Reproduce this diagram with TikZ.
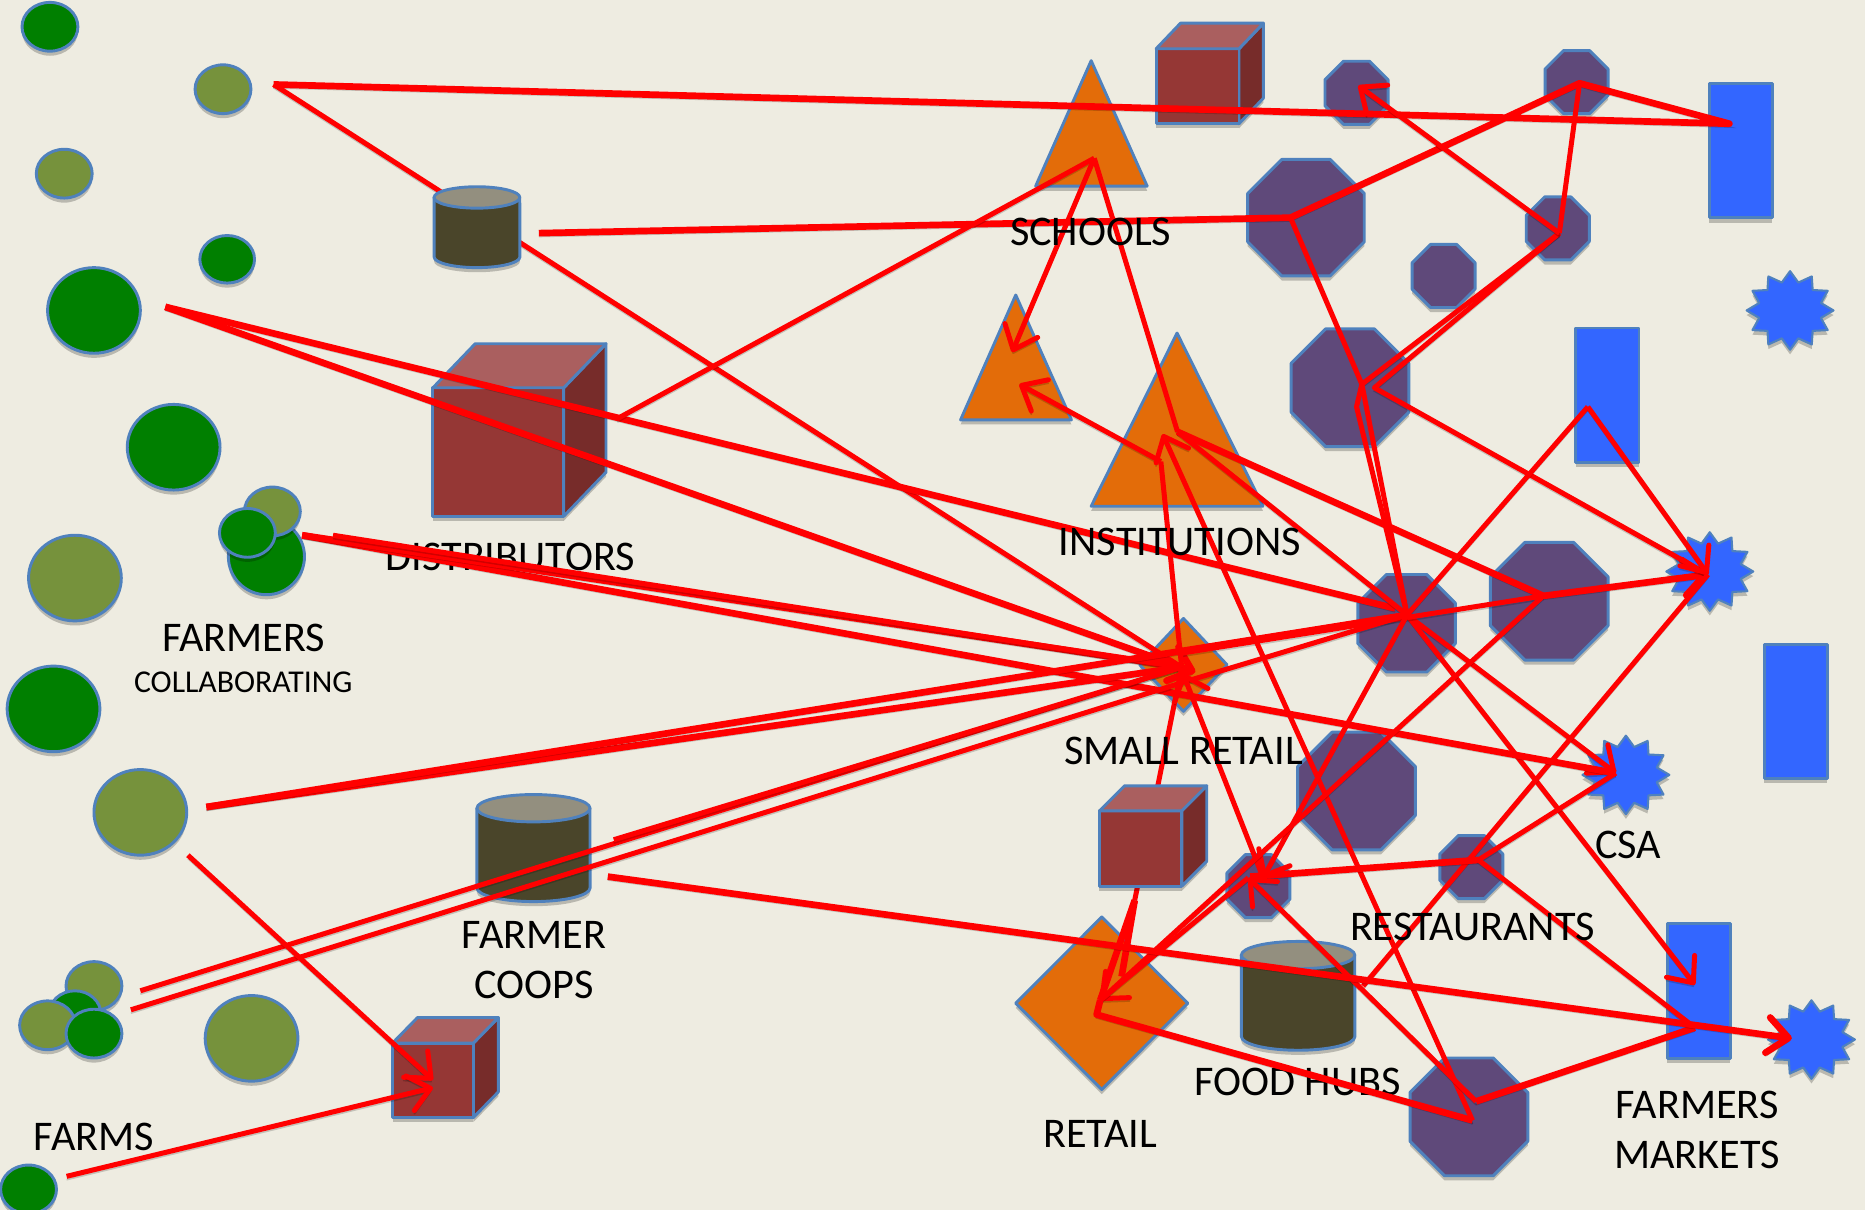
\documentclass[tikz,border=0pt]{standalone}
\usepackage{fontspec}
\setmainfont{Carlito}
\usetikzlibrary{shapes.geometric,shadows,arrows.meta}
\definecolor{bgc}{HTML}{EEECE1}
\definecolor{edgec}{HTML}{4F81BD}
\definecolor{darkfarm}{HTML}{007F00}
\definecolor{olivefarm}{HTML}{76923C}
\definecolor{purpc}{HTML}{5F497A}
\definecolor{orangec}{HTML}{E36C09}
\definecolor{bluec}{HTML}{3366FF}
\definecolor{crfront}{HTML}{953735}
\definecolor{crtop}{HTML}{AA5F5F}
\definecolor{crside}{HTML}{772C2A}
\definecolor{drumbody}{HTML}{4A452A}
\definecolor{drumtop}{HTML}{938F7F}
\tikzset{
  shad/.style={drop shadow={shadow xshift=0pt,shadow yshift=-1.1pt,opacity=.22,fill=black}},
  outl/.style={draw=edgec,line width=.7pt,line join=round},
  farm/.style={ellipse,outl,shad,inner sep=0pt,outer sep=0pt},
  octa/.style={regular polygon,regular polygon sides=8,fill=purpc,outl,shad,inner sep=0pt,outer sep=0pt},
  burst/.style={star,star points=12,star point ratio=1.36,fill=bluec,outl,line width=.5pt,shad,inner sep=0pt,outer sep=0pt,
     minimum size=.66cm,xscale=1.106,transform shape},
  stall/.style={rectangle,fill=bluec,outl,shad,inner sep=0pt,outer sep=0pt,minimum width=.53cm,minimum height=1.13cm},
  tri/.style={fill=orangec,outl,shad},
  gem/.style={diamond,fill=orangec,outl,shad,inner sep=0pt,outer sep=0pt},
  lbl/.style={font=\fontsize{10.1}{12}\selectfont,inner sep=0pt,align=center,text=black},
  wire/.style={draw=red,line width=1.2pt,line join=round,
     preaction={draw=black,opacity=.18,transform canvas={yshift=-.8pt}}},
  heavy/.style={wire,line width=1.6pt},
  tip/.style={-{Straight Barb[length=5pt,width=8.5pt,round]}},
}
\newcommand\Disc[6]{\node[farm,fill=#2,minimum width=#5*.01cm,minimum height=#6*.01cm] (#1) at (#3,#4) {};}
\newcommand\Oct[4]{\node[octa,minimum size=#4*.010824cm] (#1) at (#2,#3) {};}
\newcommand\Crate[6]{%
  \draw[outl,fill=crside,shad] (#3,#2) -- ++(#5,-#6) -- ++(0,{#4-#2}) -- ++(-#5,#6) -- cycle;
  \draw[outl,fill=crfront,shad] (#1,#2) rectangle (#3,#4);
  \draw[outl,fill=crtop] (#1,#2) -- ++(#5,-#6) -- ++({#3-#1},0) -- (#3,#2) -- cycle;}
\newcommand\Drum[5]{%
  \draw[outl,fill=drumbody,shad] (#1,#3) -- (#1,#4) arc[start angle=180,end angle=360,x radius={(#2-#1)*.005cm},y radius=#5*.01cm] -- (#2,#3) -- cycle;
  \draw[outl,fill=drumtop] ({(#1+#2)/2},#3) ellipse[x radius={(#2-#1)*.005cm},y radius=#5*.01cm];}
\begin{document}
\begin{tikzpicture}[x=.01cm,y=-.01cm]
\useasboundingbox (0,0) rectangle (1568,1017);
\fill[bgc] (0,0) rectangle (1568,1017);
% farms
\Disc{fa}{darkfarm}{42}{22.5}{47}{41}
\Disc{fb}{olivefarm}{187.5}{75}{47}{41}
\Disc{fc}{olivefarm}{54}{146}{47}{41}
\Disc{fd}{darkfarm}{191}{218}{46}{40}
\Disc{fe}{darkfarm}{79}{261}{78}{72}
\Disc{ff}{darkfarm}{146}{376}{78}{72}
\Disc{fg}{olivefarm}{63}{486}{78}{72}
\Disc{fh}{darkfarm}{45}{596}{78}{72}
\Disc{fi}{olivefarm}{118}{683}{78}{72}
\Disc{fj}{olivefarm}{211.5}{873}{78}{72}
\Disc{fk}{darkfarm}{24}{1000}{47}{41}
\Disc{ca}{darkfarm}{224}{468}{64}{64}
\Disc{cb}{olivefarm}{229}{430}{47}{41}
\Disc{cc}{darkfarm}{208}{448}{47}{41}
\Disc{da}{olivefarm}{79}{829}{47}{41}
\Disc{db}{darkfarm}{63}{853}{44}{40}
\Disc{dc}{olivefarm}{40}{862}{47}{41}
\Disc{dd}{darkfarm}{79}{869}{47}{41}
% crates and drums under the wires
\Crate{364}{326}{474}{434}{35.5}{37}
\Crate{972}{41}{1041.7}{104}{20.5}{21.5}
\Crate{330}{877}{398}{939.5}{21}{21.5}
\Drum{401}{496}{679.5}{746.5}{11.5}
\Drum{1043.7}{1139}{803}{871.5}{11.5}
% triangles
\draw[tri] (917.4,51) -- (964.5,156.5) -- (870.7,156.5) -- cycle;
\draw[tri] (854,248) -- (900.8,353) -- (807.6,353) -- cycle;
\draw[tri] (989.6,280) -- (1061.8,425.6) -- (917.4,425.6) -- cycle;
% diamonds
\node[gem,minimum width=.734cm,minimum height=.78cm,aspect=.94] (gemS) at (995,559) {};
\node[gem,minimum width=1.445cm,minimum height=1.45cm,aspect=1] (gemR) at (926.3,843.5) {};
% octagons
\Oct{oa}{1098}{183}{98}
\Oct{ob}{1140.5}{78}{53}
\Oct{oc}{1325.5}{69}{53}
\Oct{od}{1309.7}{192}{53}
\Oct{oe}{1213.7}{232}{53}
\Oct{of}{1135}{326}{99}
\Oct{og}{1302.5}{505.5}{99}
\Oct{oh}{1182.6}{524}{82}
\Oct{oi}{1140.5}{665}{99}
\Oct{oj}{1058}{745}{53}
\Oct{ok}{1237}{729}{53}
\Oct{ol}{1235}{939}{99}
% stalls
\node[stall] (ra) at (1463.5,126.7) {};
\node[stall] (rb) at (1351.5,332.3) {};
\node[stall] (rc) at (1509.7,598.2) {};
\node[stall] (rd) at (1428.3,833.2) {};
% stars
\node[burst] (sa) at (1505,261) {};
\node[burst] (sb) at (1437.5,480.5) {};
\node[burst] (sc) at (1367,651.5) {};
\node[burst] (sd) at (1523,874) {};
% labels under the wires
\node[lbl] (tDist) at (429,468) {DISTRIBUTORS};
\node[lbl] (tFood) at (1091,910) {FOOD HUBS};
% wire points
\coordinate (srcA) at (230,71);
\coordinate (srcB) at (139,258);
\coordinate (srcC) at (254,450);
\coordinate (srcD) at (280,450);
\coordinate (srcE) at (173.5,678.5);
\coordinate (srcF) at (158,719);
\coordinate (srcG) at (118,833);
\coordinate (srcH) at (110,849);
\coordinate (srcI) at (56,989);
\coordinate (drumE) at (453,196);
\coordinate (crateD) at (519,352);
\coordinate (coopA) at (516,706);
\coordinate (coopB) at (511,737);
\coordinate (school) at (920,133);
\coordinate (triA) at (851,296);
\coordinate (triB) at (857,323);
\coordinate (instTip) at (977.5,365);
\coordinate (instHub) at (990,363);
\coordinate (instLow) at (976,388);
\coordinate (octHub) at (1085,183);
\coordinate (octTop) at (1328,70);
\coordinate (octTip) at (1142,72);
\coordinate (rectA) at (1454,104);
\coordinate (octR) at (1311,196);
\coordinate (bigA) at (1145,323);
\coordinate (bigB) at (1155.5,326);
\coordinate (bigC) at (1140.5,342);
\coordinate (rectB) at (1335,342);
\coordinate (starB) at (1436,483);
\coordinate (hubS) at (993.5,561);
\coordinate (hubSa) at (1005,565);
\coordinate (hubSb) at (994.5,566);
\coordinate (hubM) at (1183,517);
\coordinate (hubMa) at (1173,511.5);
\coordinate (hubN) at (1297.6,501);
\coordinate (bendA) at (994,549);
\coordinate (bendB) at (1000,572);
\coordinate (starC) at (1358.5,650);
\coordinate (hubP) at (1062,738);
\coordinate (hubPa) at (1049.5,738);
\coordinate (hubPb) at (1051,737);
\coordinate (hubR) at (1243,723);
\coordinate (retTip) at (925,841);
\coordinate (retBase) at (922,853);
\coordinate (cubeLow) at (954,757);
\coordinate (retBarb) at (943,821);
\coordinate (lowA) at (1238,942);
\coordinate (lowB) at (1241,926);
\coordinate (rectD) at (1425,864);
\coordinate (rectTip) at (1425,828);
\coordinate (starD) at (1506.5,873);
\coordinate (crA) at (364,908);
\coordinate (crB) at (364,914.5);
\coordinate (foodK) at (1146,829);
% wires
\draw[heavy] (srcA) -- (rectA) -- (octTop) -- (octHub) -- (drumE);
\draw[wire] (srcA) -- (hubS);
\draw[heavy] (srcB) -- (hubMa);
\draw[heavy,tip] (srcB) -- (hubSa);
\draw[wire] (crateD) -- (school);
\draw[wire,tip] (school) -- (triA);
\draw[wire] (school) -- (instHub);
\draw[heavy] (instHub) -- (hubN);
\draw[heavy,tip] (hubN) -- (starB);
\draw[wire] (instHub) -- (hubM);
\draw[wire,tip] (hubM) -- (starC);
\draw[wire,tip] (hubM) -- (rectTip);
\draw[wire] (octHub) -- (bigA);
\draw[wire] (octR) -- (bigA) -- (bigC) -- (hubM);
\draw[wire] (bigA) -- (hubM);
\draw[wire] (octR) -- (bigB) -- (starB);
\draw[wire] (octR) -- (octTop);
\draw[wire,tip] (octR) -- (octTip);
\draw[wire] (rectB) -- (hubM);
\draw[wire,tip] (rectB) -- (starB);
\draw[wire] (starB) -- (foodK);
\draw[heavy] (srcC) -- (starC);
\draw[heavy] (srcC) -- (hubS);
\draw[wire] (srcD) -- (hubS);
\draw[heavy] (srcE) -- (hubS);
\draw[heavy] (srcE) -- (hubM);
\draw[wire] (bendA) -- (hubN);
\draw[wire] (srcG) -- (hubS);
\draw[wire] (coopA) -- (hubS);
\draw[wire] (srcH) -- (bendB) -- (hubM);
\draw[wire,tip] (instLow) -- (triB);
\draw[wire] (instLow) -- (hubS);
\draw[wire] (hubS) -- (cubeLow);
\draw[heavy] (cubeLow) -- (retTip);
\draw[heavy] (cubeLow) -- (retBarb);
\draw[wire,tip] (lowA) -- (instTip);
\draw[wire,tip] (hubP) -- (hubSb);
\draw[wire,tip] (hubM) -- (hubP);
\draw[wire,tip] (hubN) -- (retTip);
\draw[wire] (hubPa) -- (retTip);
\draw[heavy] (hubR) -- (hubPb);
\draw[wire] (starC) -- (hubR) -- (rectD);
\draw[heavy] (rectD) -- (lowB);
\draw[wire,tip] (lowB) -- (hubPa);
\draw[heavy] (lowA) -- (retBase) -- (retTip);
\draw[heavy,tip] (coopB) -- (starD);
\draw[wire,tip] (srcF) -- (crA);
\draw[wire,tip] (srcI) -- (crB);
% shapes that hide wires
\Drum{365}{437}{166}{216}{9}
\Crate{924.4}{681.7}{993.6}{745}{21}{21}
% labels
\node[lbl] (tFarmers) at (205,536) {FARMERS};
\node[lbl,font=\fontsize{7.6}{9}\selectfont] (tCollab) at (204.5,574) {COLLABORATING};
\node[lbl] (tSchools) at (917,195) {SCHOOLS};
\node[lbl] (tInst) at (992,456) {INSTITUTIONS};
\node[lbl] (tSmall) at (995,631) {SMALL RETAIL};
\node[lbl] (tCsa) at (1369,710) {CSA};
\node[lbl] (tRest) at (1238,779) {RESTAURANTS};
\node[lbl] (tCoops) at (449,807) {FARMER\\COOPS};
\node[lbl] (tRetail) at (925,953) {RETAIL};
\node[lbl] (tMarkets) at (1427,950) {FARMERS\\MARKETS};
\node[lbl] (tFarms) at (79,956) {FARMS};
\end{tikzpicture}
\end{document}
